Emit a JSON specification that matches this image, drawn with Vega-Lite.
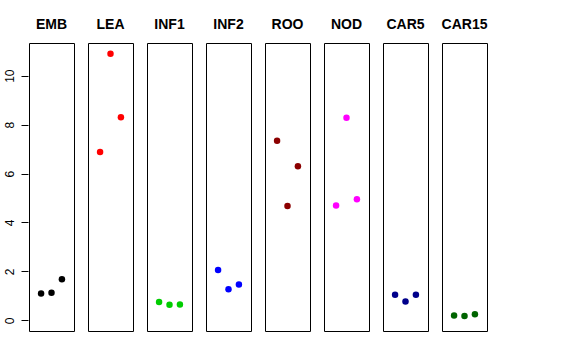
{
  "$schema": "https://vega.github.io/schema/vega-lite/v6.json",
  "padding": {"left": 3, "top": 18, "right": 5, "bottom": 5},
  "background": "white",
  "data": {"values": [
    {"tissue": "EMB", "rep": 1, "value": 1.10},
    {"tissue": "EMB", "rep": 2, "value": 1.13},
    {"tissue": "EMB", "rep": 3, "value": 1.68},
    {"tissue": "LEA", "rep": 1, "value": 6.88},
    {"tissue": "LEA", "rep": 2, "value": 10.9},
    {"tissue": "LEA", "rep": 3, "value": 8.30},
    {"tissue": "INF1", "rep": 1, "value": 0.75},
    {"tissue": "INF1", "rep": 2, "value": 0.64},
    {"tissue": "INF1", "rep": 3, "value": 0.65},
    {"tissue": "INF2", "rep": 1, "value": 2.06},
    {"tissue": "INF2", "rep": 2, "value": 1.27},
    {"tissue": "INF2", "rep": 3, "value": 1.46},
    {"tissue": "ROO", "rep": 1, "value": 7.34},
    {"tissue": "ROO", "rep": 2, "value": 4.67},
    {"tissue": "ROO", "rep": 3, "value": 6.30},
    {"tissue": "NOD", "rep": 1, "value": 4.69},
    {"tissue": "NOD", "rep": 2, "value": 8.28},
    {"tissue": "NOD", "rep": 3, "value": 4.95},
    {"tissue": "CAR5", "rep": 1, "value": 1.05},
    {"tissue": "CAR5", "rep": 2, "value": 0.77},
    {"tissue": "CAR5", "rep": 3, "value": 1.05},
    {"tissue": "CAR15", "rep": 1, "value": 0.20},
    {"tissue": "CAR15", "rep": 2, "value": 0.18},
    {"tissue": "CAR15", "rep": 3, "value": 0.25}
  ]},
  "facet": {
    "column": {
      "field": "tissue",
      "type": "nominal",
      "sort": ["EMB", "LEA", "INF1", "INF2", "ROO", "NOD", "CAR5", "CAR15"],
      "header": {
        "title": null,
        "labelFont": "Liberation Sans",
        "labelFontWeight": "bold",
        "labelFontSize": 14,
        "labelColor": "black",
        "labelPadding": 10
      }
    }
  },
  "spacing": 12,
  "spec": {
    "width": 45,
    "height": 288,
    "mark": {"type": "point", "filled": true, "opacity": 1, "size": 42},
    "encoding": {
      "x": {
        "field": "rep",
        "type": "quantitative",
        "scale": {"domain": [-0.16, 4.16], "nice": false, "zero": false},
        "axis": null
      },
      "y": {
        "field": "value",
        "type": "quantitative",
        "scale": {"domain": [-0.436, 11.336], "nice": false, "zero": false},
        "axis": {
          "title": null,
          "values": [0, 2, 4, 6, 8, 10],
          "grid": false,
          "domain": false,
          "tickSize": 7,
          "tickColor": "black",
          "labelAngle": 270,
          "labelFont": "Liberation Sans",
          "labelFontSize": 12,
          "labelColor": "black",
          "labelPadding": 5
        }
      },
      "color": {
        "field": "tissue",
        "type": "nominal",
        "scale": {
          "domain": ["EMB", "LEA", "INF1", "INF2", "ROO", "NOD", "CAR5", "CAR15"],
          "range": ["#000000", "#FF0000", "#00CD00", "#0000FF", "#8B0000", "#FF00FF", "#00008B", "#006400"]
        },
        "legend": null
      }
    }
  },
  "config": {
    "view": {"stroke": "black", "strokeWidth": 1}
  }
}
